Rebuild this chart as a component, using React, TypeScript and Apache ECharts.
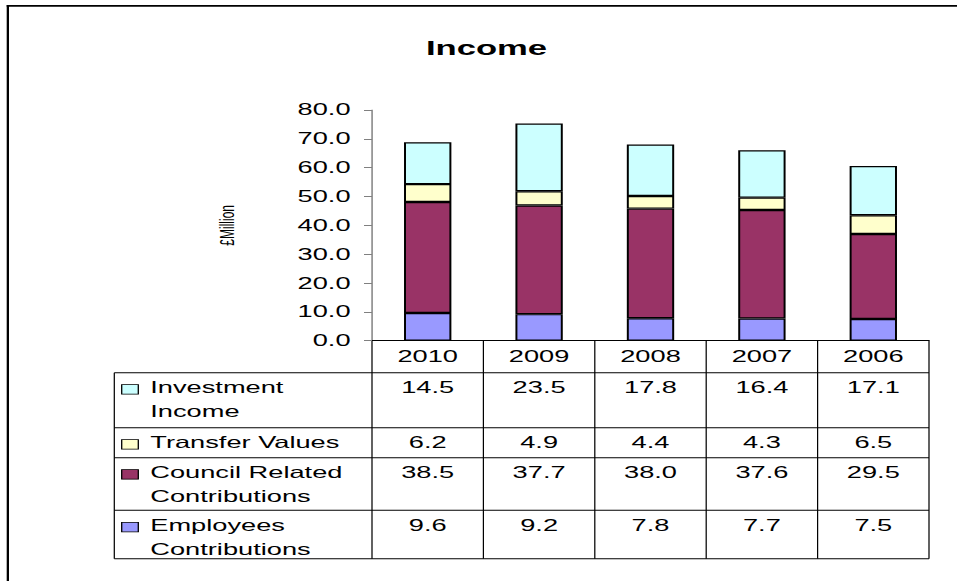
import React, { useEffect, useRef } from 'react';
import * as echarts from 'echarts';

// ---- data ----
const years = ['2010', '2009', '2008', '2007', '2006'];
const employees = [9.6, 9.2, 7.8, 7.7, 7.5];
const council = [38.5, 37.7, 38.0, 37.6, 29.5];
const transfer = [6.2, 4.9, 4.4, 4.3, 6.5];
const investment = [14.5, 23.5, 17.8, 16.4, 17.1];
const seriesNames = ['Employees Contributions', 'Council Related Contributions', 'Transfer Values', 'Investment Income'];
const seriesValues = [employees, council, transfer, investment];
const seriesColors = ['#9999FF', '#993366', '#FFFFCC', '#CCFFFF'];
// table rows, top to bottom (index into series arrays) and their wrapped labels
const tableOrder = [3, 2, 1, 0];
const tableLabels = ['Investment\nIncome', 'Transfer Values', 'Council Related\nContributions', 'Employees\nContributions'];
const yMin = 0;
const yMax = 80;
const yStep = 10;
const titleText = 'Income';
const yName = '£Million';

// ---- layout ----
const S = 1.65; // horizontal stretch of the original rendering
const W = 957 / S;
const H = 581;
const FONT = '"Liberation Sans", Arial, Helvetica, sans-serif';
const FS = 16.5;
const rowBounds = [340.7, 372.7, 427.7, 457.7, 510.3, 558.7];
const tableLeft = 114.3 / S;

export default function App() {
  const ref = useRef<HTMLDivElement>(null);
  useEffect(() => {
    if (!ref.current) return;
    const chart = echarts.init(ref.current, null, { renderer: 'svg' });
    chart.setOption({
      animation: false,
      backgroundColor: '#fff',
      grid: { left: 372 / S, right: W - 929 / S, top: 110, bottom: H - 340.7 },
      xAxis: {
        type: 'category',
        data: years,
        boundaryGap: true,
        axisLine: { show: true, lineStyle: { color: '#000', width: 1 } },
        axisTick: { show: false },
        axisLabel: { color: '#000', fontSize: FS, fontFamily: FONT, margin: 7 },
      },
      yAxis: {
        type: 'value',
        min: yMin,
        max: yMax,
        interval: yStep,
        name: yName,
        nameLocation: 'middle',
        nameRotate: 90,
        nameGap: 82,
        nameTextStyle: { color: '#000', fontSize: 12, fontFamily: FONT, padding: [0, 0, 0, 0] },
        axisLine: { show: true, lineStyle: { color: '#808080', width: 0.9 } },
        axisTick: { show: true, inside: false, length: 8 / S, lineStyle: { color: '#808080', width: 1 } },
        splitLine: { show: false },
        axisLabel: {
          color: '#000',
          fontSize: FS,
          fontFamily: FONT,
          margin: 13,
          formatter: (v: number) => v.toFixed(1),
        },
      },
      series: seriesNames.map((name, i) => ({
        name,
        type: 'bar',
        stack: 'income',
        data: seriesValues[i],
        barWidth: 28.7,
        itemStyle: { color: seriesColors[i], borderColor: '#000', borderWidth: 1.2 },
      })),
      graphic: [],
    });

    // table and decorations positioned from the chart's own scales
    const c0 = chart.convertToPixel({ xAxisIndex: 0 }, years[0]) as number;
    const c1 = chart.convertToPixel({ xAxisIndex: 0 }, years[1]) as number;
    const band = c1 - c0;
    const centers = years.map((y) => chart.convertToPixel({ xAxisIndex: 0 }, y) as number);
    const bounds = [centers[0] - band / 2, ...centers.map((c) => c + band / 2)];
    const right = bounds[bounds.length - 1];

    const els: any[] = [];
    // frame
    els.push({ type: 'rect', shape: { x: 6.7 / S, y: 5, width: 2.3 / S, height: H + 10 }, style: { fill: '#000' }, z: 100 });
    els.push({ type: 'rect', shape: { x: 6.7 / S, y: 5, width: W, height: 1.8 }, style: { fill: '#000' }, z: 100 });
    // title
    els.push({
      type: 'text',
      x: 486.5 / S,
      y: 47.5,
      style: { text: titleText, align: 'center', verticalAlign: 'middle', fontSize: 21, fontWeight: 'bold', fontFamily: FONT, fill: '#000' },
    });
    // horizontal table lines
    for (let r = 1; r < rowBounds.length; r++) {
      els.push({
        type: 'line',
        shape: { x1: tableLeft, y1: rowBounds[r], x2: right, y2: rowBounds[r] },
        style: { stroke: '#000', lineWidth: 1 },
      });
    }
    // vertical column lines
    bounds.forEach((bx) => {
      els.push({
        type: 'line',
        shape: { x1: bx, y1: rowBounds[0], x2: bx, y2: rowBounds[rowBounds.length - 1] },
        style: { stroke: '#000', lineWidth: 0.75 },
      });
    });
    els.push({
      type: 'line',
      shape: { x1: tableLeft, y1: rowBounds[1], x2: tableLeft, y2: rowBounds[rowBounds.length - 1] },
      style: { stroke: '#000', lineWidth: 0.75 },
    });
    // rows
    tableOrder.forEach((si, r) => {
      const top = rowBounds[r + 1];
      els.push({
        type: 'rect',
        shape: { x: 121.7 / S, y: top + 12, width: 16.6 / S, height: 9.5 },
        style: { fill: seriesColors[si], stroke: '#000', lineWidth: 0.8 },
      });
      els.push({
        type: 'text',
        x: 150.3 / S,
        y: top + 3.5,
        style: { text: tableLabels[r], align: 'left', verticalAlign: 'top', fontSize: FS, lineHeight: 23.5, fontFamily: FONT, fill: '#000' },
      });
      seriesValues[si].forEach((v, k) => {
        els.push({
          type: 'text',
          x: centers[k],
          y: top + 3.5,
          style: { text: v.toFixed(1), align: 'center', verticalAlign: 'top', fontSize: FS, lineHeight: 23.5, fontFamily: FONT, fill: '#000' },
        });
      });
    });
    chart.setOption({ graphic: els });

    return () => chart.dispose();
  }, []);

  return (
    <div
      ref={ref}
      style={{
        position: 'absolute',
        left: 0,
        top: 0,
        width: W,
        height: H,
        transform: `scaleX(${S})`,
        transformOrigin: '0 0',
        background: '#fff',
      }}
    />
  );
}
